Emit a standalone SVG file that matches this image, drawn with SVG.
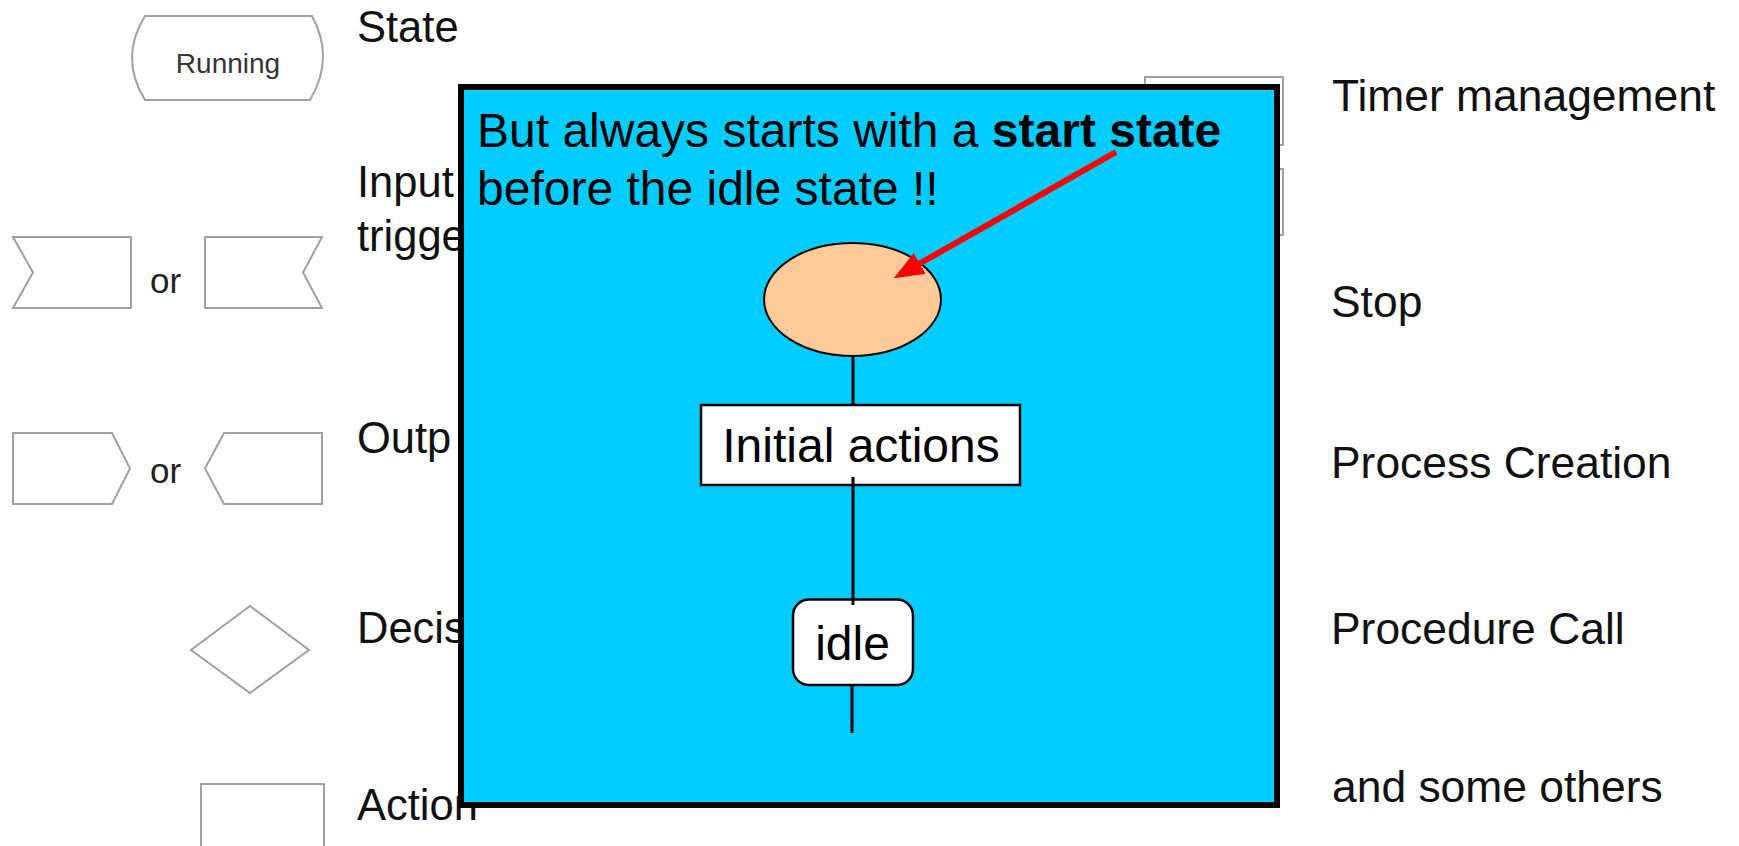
<svg xmlns="http://www.w3.org/2000/svg" width="1739" height="846" viewBox="0 0 1739 846">
<style>
.lg{fill:#fff;stroke:#a0a0a0;stroke-width:2}
.lbl{font-family:"Liberation Sans",Arial,sans-serif;font-size:43.5px;fill:#111}
.rl{font-family:"Liberation Sans",Arial,sans-serif;font-size:44.4px;fill:#111}
.or{font-family:"Liberation Sans",Arial,sans-serif;font-size:35px;fill:#222}
.big{font-family:"Liberation Sans",Arial,sans-serif;font-size:48px;fill:#000}
.conn{stroke:#000;stroke-width:3;fill:none}
</style>
<defs>
<marker id="redHead" markerUnits="userSpaceOnUse" viewBox="0 0 30 24" refX="2" refY="12" markerWidth="30" markerHeight="24" orient="auto">
<path d="M0,0 L30,12 L0,24 Z" fill="#ff0000"/>
</marker>
</defs>
<rect width="1739" height="846" fill="#fff"/>

<g id="legend-state">
<path class="lg" d="M145,16 L312,16 Q335,58 310,100 L145,100 Q119,58 145,16 Z"/>
<text x="228" y="73" text-anchor="middle" font-family="Liberation Sans, Arial, sans-serif" font-size="28" fill="#333">Running</text>
<text class="lbl" x="357" y="42">State</text>
</g>
<g id="legend-input">
<polygon class="lg" points="13,237 131,237 131,308 13,308 33,272.5"/>
<text class="or" x="150" y="293">or</text>
<polygon class="lg" points="205,237 322,237 303,272.5 322,308 205,308"/>
<text class="lbl" x="357" y="197">Input</text>
<text class="lbl" x="357" y="251">trigge</text>
</g>
<g id="legend-output">
<polygon class="lg" points="13,433 112,433 130,468.5 112,504 13,504"/>
<text class="or" x="150" y="483">or</text>
<polygon class="lg" points="224,433 322,433 322,504 224,504 205,468.5"/>
<text class="lbl" x="357" y="453">Outp</text>
</g>
<g id="legend-decision">
<polygon class="lg" points="250,606 309,650 250,693 191,650"/>
<text class="lbl" x="357" y="643">Decis</text>
</g>
<g id="legend-action">
<rect class="lg" x="201" y="784" width="123" height="80"/>
<text class="lbl" x="357" y="820">Action</text>
</g>
<g id="legend-timer">
<rect class="lg" x="1145" y="77" width="138" height="68"/>
<text class="rl" x="1332" y="111">Timer management</text>
</g>
<g id="legend-stop">
<rect class="lg" x="1145" y="169" width="138" height="66"/>
<text class="rl" x="1331" y="317">Stop</text>
</g>
<g id="legend-create">
<text class="rl" x="1331" y="478">Process Creation</text>
</g>
<g id="legend-proc">
<text class="rl" x="1331" y="644">Procedure Call</text>
</g>
<g id="legend-others">
<text class="rl" x="1332" y="802">and some others</text>
</g>

<g id="overlay">
<rect x="461" y="87" width="816" height="718" fill="#00ccff" stroke="#000" stroke-width="6"/>
<text class="big" x="477" y="147">But always starts with a <tspan font-weight="bold">start state</tspan></text>
<text class="big" x="477" y="205">before the idle state !!</text>
</g>
<g id="start">
<ellipse cx="852.5" cy="299.5" rx="88.5" ry="56.5" fill="#ffcc99" stroke="#000" stroke-width="2"/>
</g>
<g id="initial">
<rect x="701" y="405" width="319" height="80" fill="#fff" stroke="#000" stroke-width="2.5"/>
<text class="big" x="861" y="462" text-anchor="middle">Initial actions</text>
</g>
<g id="idle">
<rect x="793" y="599.5" width="120" height="85.5" rx="16" fill="#fff" stroke="#000" stroke-width="2.5"/>
<text class="big" x="852.5" y="660" text-anchor="middle">idle</text>
</g>

<g id="connectors">
<line class="conn" x1="853" y1="356" x2="853" y2="405"/>
<line class="conn" x1="853" y1="477" x2="853" y2="605"/>
<line class="conn" x1="852" y1="686" x2="852" y2="733"/>
<line x1="1116" y1="152" x2="918" y2="264.5" stroke="#ff0000" stroke-width="6" marker-end="url(#redHead)"/>
</g>
</svg>
